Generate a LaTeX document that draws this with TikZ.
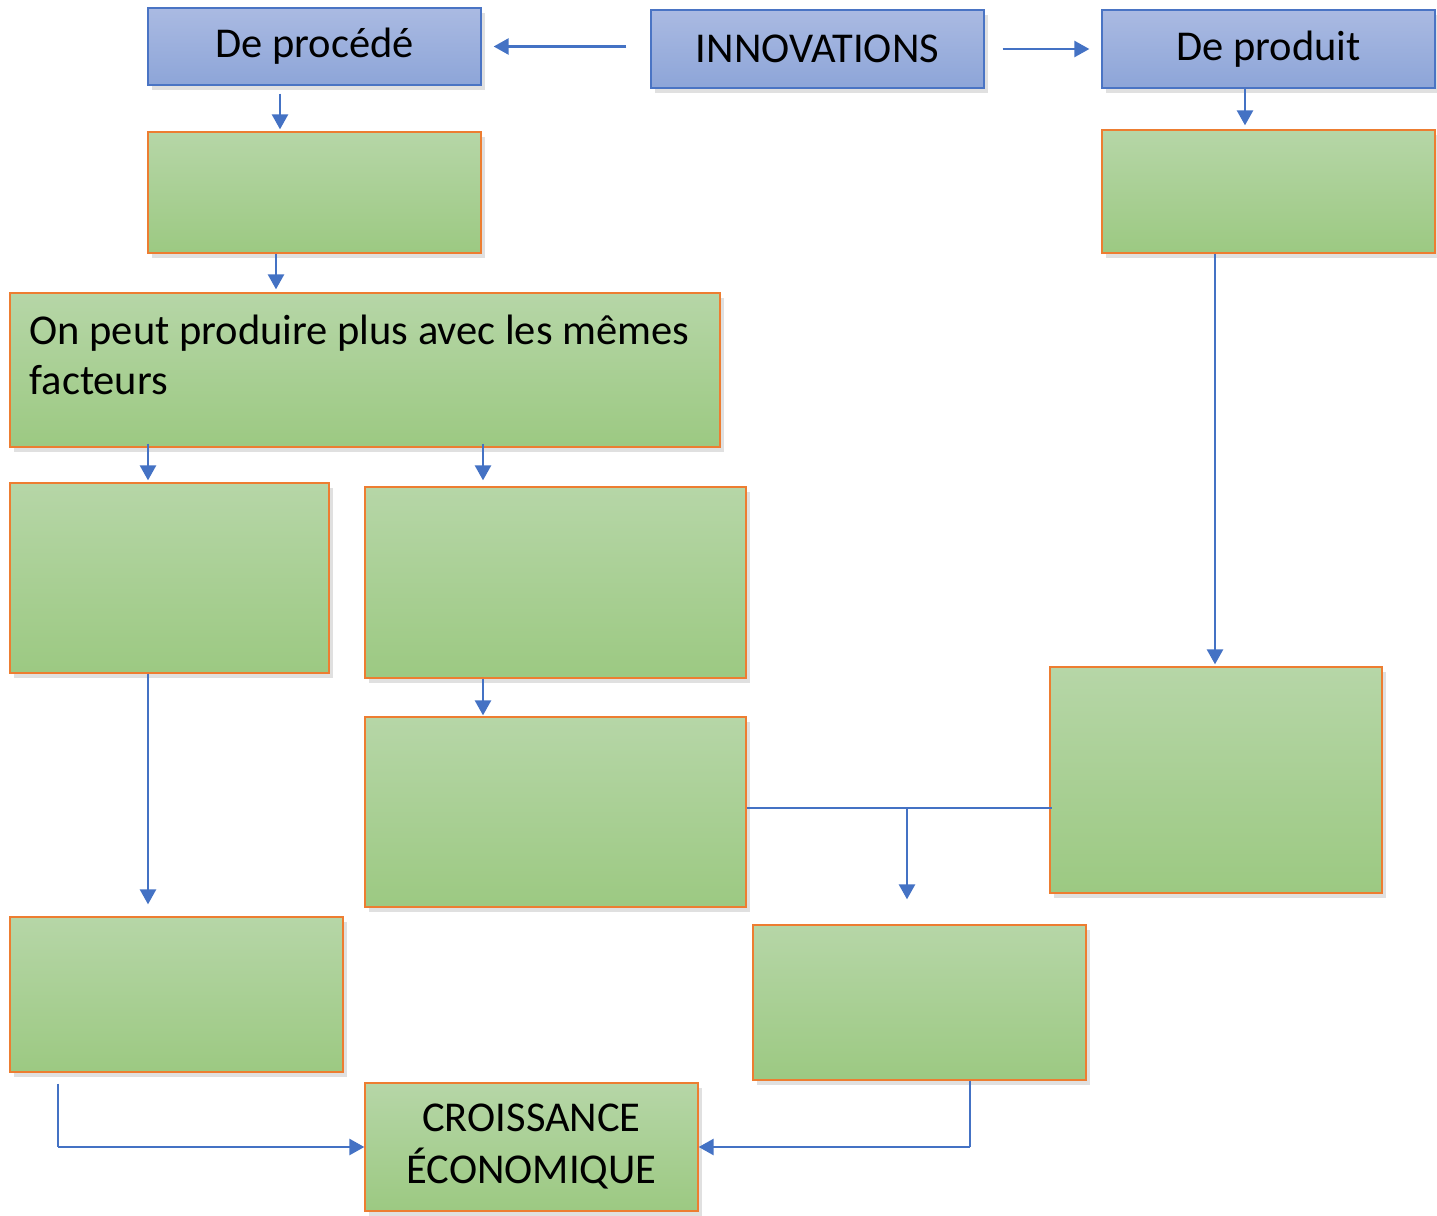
\documentclass[tikz,border=0pt]{standalone}
\usepackage{fontspec}
\setmainfont{Carlito}
\usetikzlibrary{arrows.meta,shadows}
\definecolor{bluetop}{HTML}{AABAE2}
\definecolor{bluebot}{HTML}{8DA5D8}
\definecolor{blueedge}{HTML}{4A74C4}
\definecolor{greentop}{HTML}{B6D6A7}
\definecolor{greenbot}{HTML}{9CC982}
\definecolor{orangeedge}{HTML}{ED7D31}
\definecolor{arrowblue}{HTML}{4472C4}
\tikzset{
  boxbase/.style={rectangle, inner sep=0pt, line width=1.3pt,
    drop shadow={shadow xshift=4pt, shadow yshift=-5pt, fill=black, opacity=0.12}},
  bluebox/.style={boxbase, draw=blueedge, top color=bluetop, bottom color=bluebot,
    font=\fontsize{42.5}{50}\selectfont},
  greenbox/.style={boxbase, draw=orangeedge, top color=greentop, bottom color=greenbot,
    font=\fontsize{42.5}{52}\selectfont, align=center},
  arr/.style={draw=arrowblue, line width=2.6pt, -{Triangle[length=15pt,width=16pt]}},
  thinline/.style={draw=arrowblue, line width=1.4pt}
}
\begin{document}
\begin{tikzpicture}[x=1pt,y=-1pt]
\useasboundingbox (0,0) rectangle (1437,1215);
% top row
\node[bluebox, minimum width=333pt, minimum height=77pt] (proc) at (314.5,46.5) {De procédé};
\node[bluebox, minimum width=333pt, minimum height=78pt] (innov) at (817.5,49) {INNOVATIONS};
\node[bluebox, minimum width=333pt, minimum height=78pt] (prod) at (1268.5,49) {De produit};
% green boxes
\node[greenbox, minimum width=333pt, minimum height=121pt] (g1) at (314.5,192.5) {};
\node[greenbox, minimum width=333pt, minimum height=123pt] (g2) at (1268.5,191.5) {};
\node[greenbox, minimum width=710pt, minimum height=154pt] (big) at (365,370) {};
\node[anchor=north west, inner sep=0pt, align=left, font=\fontsize{42.5}{50}\selectfont]
  (bigtext) at ([xshift=20pt,yshift=-22pt]big.north west) {On peut produire plus avec les mêmes\\facteurs};
\node[greenbox, minimum width=319pt, minimum height=190pt] (A) at (169.5,578) {};
\node[greenbox, minimum width=381pt, minimum height=191pt] (B) at (555.5,582.5) {};
\node[greenbox, minimum width=381pt, minimum height=190pt] (C) at (555.5,812) {};
\node[greenbox, minimum width=332pt, minimum height=226pt] (D) at (1216,780) {};
\node[greenbox, minimum width=333pt, minimum height=155pt] (E) at (176.5,994.5) {};
\node[greenbox, minimum width=333pt, minimum height=155pt] (F) at (919.5,1002.5) {};
\node[greenbox, minimum width=333pt, minimum height=128pt] (cro) at (531.5,1147) {CROISSANCE\\ÉCONOMIQUE};
% arrows top
\draw[arr, shorten <=24pt, shorten >=12pt] (innov.west |- proc.east) -- (proc.east);
\draw[arr, shorten <=18pt, shorten >=12pt] (innov.east) -- (prod.west);
\coordinate (p1) at ([xshift=-34.5pt]proc.south);
\draw[arr, shorten <=8pt, shorten >=2pt] (p1) -- (p1 |- g1.north);
\coordinate (p2) at ([xshift=-38.5pt]g1.south);
\draw[arr, shorten >=3pt] (p2) -- (p2 |- big.north);
\coordinate (p3) at ([xshift=-23.5pt]prod.south);
\draw[arr, shorten >=4pt] (p3) -- (p3 |- g2.north);
\coordinate (p4) at ([xshift=-1pt]D.north);
\draw[arr, shorten >=2pt] (p4 |- g2.south) -- (p4);
% from big box
\coordinate (p5) at ([xshift=-21.5pt]A.north);
\draw[arr, shorten <=-4pt, shorten >=2pt] (p5 |- big.south) -- (p5);
\coordinate (p6) at ([xshift=-72.5pt]B.north);
\draw[arr, shorten <=-4pt, shorten >=6pt] (p6 |- big.south) -- (p6);
\coordinate (p7) at ([xshift=-72.5pt]B.south);
\draw[arr, shorten >=1pt] (p7) -- (p7 |- C.north);
\draw[arr, shorten >=12pt] (p5 |- A.south) -- (p5 |- E.north);
% C - D connector
\coordinate (m) at ([yshift=4pt]C.east);
\draw[thinline] (m) -- ([xshift=3pt]m -| D.west);
\coordinate (j) at ([xshift=-12.5pt]m -| F.north);
\draw[arr, shorten >=25pt] (j) -- (j |- F.north);
% bottom connectors
\coordinate (e1) at ([xshift=-118.5pt]E.south);
\draw[thinline, shorten <=11pt] (e1) -- (e1 |- cro.west);
\draw[arr] (e1 |- cro.west) -- (cro.west);
\coordinate (f1) at ([xshift=50.5pt]F.south);
\draw[thinline] (f1) -- (f1 |- cro.east);
\draw[arr] (f1 |- cro.east) -- (cro.east);
\end{tikzpicture}
\end{document}
